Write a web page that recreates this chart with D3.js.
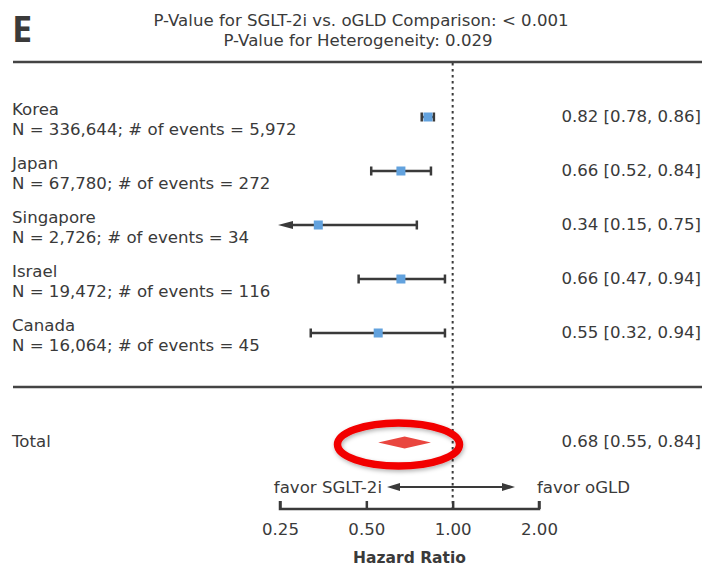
<!DOCTYPE html>
<html>
<head>
<meta charset="utf-8">
<script src="https://cdn.jsdelivr.net/npm/d3@7"></script>
<style>
  html, body { margin: 0; padding: 0; background: #fff; }
  svg { display: block; font-family: "DejaVu Sans", "Noto Sans", sans-serif; }
</style>
</head>
<body>
<svg id="chart" width="702" height="568"></svg>
<script>
// Per-country hazard ratios with 95% CI
const countries = ["Korea", "Japan", "Singapore", "Israel", "Canada"];
const sampleSizes = ["336,644", "67,780", "2,726", "19,472", "16,064"];
const eventCounts = ["5,972", "272", "34", "116", "45"];
const hr = [0.82, 0.66, 0.34, 0.66, 0.55];
const ciLow = [0.78, 0.52, 0.15, 0.47, 0.32];
const ciHigh = [0.86, 0.84, 0.75, 0.94, 0.94];

// Pooled estimate
const totalHR = 0.68, totalLow = 0.55, totalHigh = 0.84;

const axisTicks = [0.25, 0.5, 1, 2];
const axisTickLabels = ["0.25", "0.50", "1.00", "2.00"];

const ink = "#3a3a3a";
const fs = 16.6;
const svg = d3.select("#chart");

const x = d3.scaleLog().base(2).domain([0.25, 2]).range([280, 539]);
const y = d3.scalePoint().domain(countries).range([117, 333]);

// Panel letter and p-values
svg.append("text").attr("x", 12).attr("y", 42)
  .attr("font-size", 36).attr("font-weight", 700).attr("fill", ink)
  .attr("font-family", "'Liberation Sans Narrow', 'Open Sans', sans-serif")
  .text("E");
svg.append("text").attr("x", 361).attr("y", 26).attr("text-anchor", "middle")
  .attr("font-size", fs).attr("fill", ink)
  .text("P-Value for SGLT-2i vs. oGLD Comparison: < 0.001");
svg.append("text").attr("x", 358).attr("y", 46).attr("text-anchor", "middle")
  .attr("font-size", fs).attr("fill", ink)
  .text("P-Value for Heterogeneity: 0.029");

// Separator rules
[62, 387].forEach(yy => {
  svg.append("line").attr("x1", 13).attr("x2", 702).attr("y1", yy).attr("y2", yy)
    .attr("stroke", "#444").attr("stroke-width", 2.5);
});

// Reference line at HR = 1
svg.append("line").attr("x1", x(1)).attr("x2", x(1)).attr("y1", 63).attr("y2", 509)
  .attr("stroke", ink).attr("stroke-width", 2).attr("stroke-dasharray", "2.5,3.5");

// Country rows
const rows = svg.append("g").selectAll("g").data(countries).join("g");
rows.append("text").attr("x", 12).attr("y", d => y(d) - 2)
  .attr("font-size", fs).attr("fill", ink).text(d => d);
rows.append("text").attr("x", 12).attr("y", (d, i) => y(d) + 18)
  .attr("font-size", fs).attr("fill", ink)
  .text((d, i) => `N = ${sampleSizes[i]}; # of events = ${eventCounts[i]}`);
rows.append("text").attr("x", 701).attr("y", d => y(d) + 5)
  .attr("text-anchor", "end").attr("font-size", fs).attr("fill", ink)
  .text((d, i) => `${hr[i].toFixed(2)} [${ciLow[i].toFixed(2)}, ${ciHigh[i].toFixed(2)}]`);

const lo = x.domain()[0];
rows.each(function (d, i) {
  const g = d3.select(this);
  const yy = y(d);
  const clipped = ciLow[i] < lo;
  const x0 = clipped ? x(lo) - 2 : x(ciLow[i]);
  const x1 = x(ciHigh[i]);
  g.append("line").attr("x1", clipped ? x0 + 10 : x0).attr("x2", x1).attr("y1", yy).attr("y2", yy)
    .attr("stroke", ink).attr("stroke-width", 2.5);
  if (clipped) {
    g.append("path").attr("d", `M${x0},${yy}L${x0 + 15},${yy - 4}L${x0 + 15},${yy + 4}Z`).attr("fill", ink);
  } else {
    g.append("line").attr("x1", x0).attr("x2", x0).attr("y1", yy - 4.5).attr("y2", yy + 4.5)
      .attr("stroke", ink).attr("stroke-width", 2.5);
  }
  g.append("line").attr("x1", x1).attr("x2", x1).attr("y1", yy - 4.5).attr("y2", yy + 4.5)
    .attr("stroke", ink).attr("stroke-width", 2.5);
  g.append("rect").attr("x", x(hr[i]) - 4.5).attr("y", yy - 4.5)
    .attr("width", 9).attr("height", 9).attr("fill", "#62a2de");
});

// Pooled row
const ty = 442.5;
svg.append("text").attr("x", 12).attr("y", 447).attr("font-size", fs).attr("fill", ink).text("Total");
svg.append("text").attr("x", 701).attr("y", 447).attr("text-anchor", "end")
  .attr("font-size", fs).attr("fill", ink)
  .text(`${totalHR.toFixed(2)} [${totalLow.toFixed(2)}, ${totalHigh.toFixed(2)}]`);
svg.append("path")
  .attr("d", `M${x(totalLow)},${ty}L${x(totalHR)},${ty - 6}L${x(totalHigh)},${ty}L${x(totalHR)},${ty + 6}Z`)
  .attr("fill", "#e9463f");

// Highlight ring around the pooled estimate
const defs = svg.append("defs");
const f = defs.append("filter").attr("id", "soft").attr("x", "-20%").attr("y", "-40%").attr("width", "140%").attr("height", "180%");
f.append("feDropShadow").attr("dx", 1).attr("dy", 2).attr("stdDeviation", 2).attr("flood-color", "#000").attr("flood-opacity", 0.3);
svg.append("ellipse").attr("cx", 398.5).attr("cy", 444.5).attr("rx", 61).attr("ry", 21.5)
  .attr("fill", "none").attr("stroke", "#f20000").attr("stroke-width", 7.5).attr("filter", "url(#soft)");

// Direction arrows
const ay = 487;
svg.append("text").attr("x", 382).attr("y", 493).attr("text-anchor", "end")
  .attr("font-size", fs).attr("fill", ink).text("favor SGLT-2i");
svg.append("text").attr("x", 537).attr("y", 493)
  .attr("font-size", fs).attr("fill", ink).text("favor oGLD");
svg.append("line").attr("x1", 396).attr("x2", 506).attr("y1", ay).attr("y2", ay)
  .attr("stroke", ink).attr("stroke-width", 2);
svg.append("path").attr("d", `M387,${ay}L400,${ay - 4}L400,${ay + 4}Z`).attr("fill", ink);
svg.append("path").attr("d", `M515,${ay}L502,${ay - 4}L502,${ay + 4}Z`).attr("fill", ink);

// Log-scale axis
const axis = d3.axisBottom(x).tickValues(axisTicks).tickSize(-8)
  .tickFormat((d, i) => axisTickLabels[i]);
const ag = svg.append("g").attr("transform", "translate(0,509)").call(axis);
ag.select(".domain").attr("d", `M${x(0.25)},-8V0H${x(2)}V-8`).attr("stroke", ink).attr("stroke-width", 2.5).attr("fill", "none");
ag.selectAll(".tick line").attr("stroke", ink).attr("stroke-width", 2.5);
ag.selectAll(".tick text").attr("font-size", fs).attr("fill", ink).attr("y", 14)
  .attr("font-family", "'DejaVu Sans', sans-serif");
svg.append("text").attr("x", (x(0.25) + x(2)) / 2).attr("y", 563).attr("text-anchor", "middle")
  .attr("font-size", 15.5).attr("font-weight", 700).attr("fill", ink).text("Hazard Ratio");
</script>
</body>
</html>
